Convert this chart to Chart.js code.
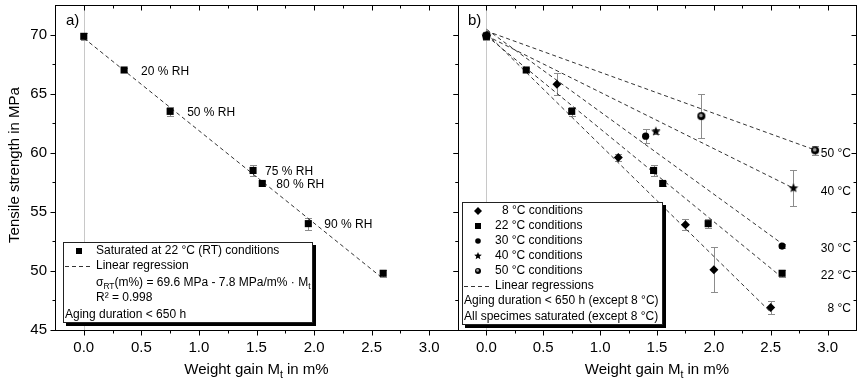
<!DOCTYPE html>
<html>
<head>
<meta charset="utf-8">
<script src="https://cdn.jsdelivr.net/npm/chart.js@4.4.0/dist/chart.umd.min.js"></script>
<style>
  html, body { margin: 0; padding: 0; background: #fff; }
  #wrap { position: relative; width: 861px; height: 380px; overflow: hidden; }
  canvas { position: absolute; top: 0; }
</style>
</head>
<body>
<div id="wrap">
  <canvas id="ca" width="470" height="380" style="left:0;width:470px;height:380px"></canvas>
  <canvas id="cb" width="421" height="380" style="left:440px;width:421px;height:380px"></canvas>
</div>
<script>
// ---- data ----
const xTicks = [0, 0.5, 1, 1.5, 2, 2.5, 3];
const xMinor = [0.25, 0.75, 1.25, 1.75, 2.25, 2.75];
const yTicks = [45, 50, 55, 60, 65, 70];
const yMinor = [47.5, 52.5, 57.5, 62.5, 67.5];

// a) saturated at 22 °C (RT)
const rtM = [0, 0.35, 0.75, 1.47, 1.55, 1.95, 2.6];
const rtS = [69.85, 67.0, 63.5, 58.5, 57.4, 54.0, 49.8];
const rtErr = [0.3, 0.15, 0.4, 0.5, 0.2, 0.5, 0.3];
const rhLabels = ['', '20 % RH', '50 % RH', '75 % RH', '80 % RH', '90 % RH', ''];
const fitRT = [[0, 69.7], [2.58, 49.5]];

// b) different temperatures
const m8 = [0, 0.62, 1.16, 1.75, 2.0, 2.5];
const s8 = [69.9, 65.8, 59.6, 53.9, 50.1, 46.9];
const e8 = [0.3, 0.95, 0.3, 0.45, 1.9, 0.55];
const m22 = [0, 0.35, 0.75, 1.47, 1.55, 1.95, 2.6];
const s22 = [69.85, 67.0, 63.5, 58.5, 57.4, 54.0, 49.8];
const e22 = [0.3, 0.15, 0.4, 0.5, 0.2, 0.4, 0.3];
const m30 = [0, 1.40, 2.6];
const s30 = [69.9, 61.4, 52.1];
const e30 = [0.3, 0.6, 0.2];
const m40 = [0, 1.49, 2.7];
const s40 = [69.9, 61.8, 57.0];
const e40 = [0.3, 0.2, 1.5];
const m50 = [0, 1.89, 2.89];
const s50 = [69.9, 63.1, 60.2];
const e50 = [0.3, 1.85, 0.4];

const fit8 = [[0, 70.1], [2.49, 46.6]];
const fit22 = [[0, 69.9], [2.58, 49.6]];
const fit30 = [[0, 70.45], [2.6, 52.3]];
const fit40 = [[0, 69.9], [2.7, 57.0]];
const fit50 = [[0, 70.3], [2.87, 60.3]];

const tempLabels = ['8 °C', '22 °C', '30 °C', '40 °C', '50 °C'];
const tempLabelY = [46.8, 49.6, 51.9, 56.7, 59.9];

// ---- styling ----
const FONT = '"Liberation Sans", Arial, Helvetica, sans-serif';
const rhDx = [0, 17, 17, 12, 14, 16, 0];

function makeStar(r) {
  const c = document.createElement('canvas');
  const s = Math.ceil(r * 2) + 2;
  c.width = c.height = s;
  const g = c.getContext('2d');
  g.translate(s / 2, s / 2);
  g.beginPath();
  for (let i = 0; i < 10; i++) {
    const rr = i % 2 ? r * 0.45 : r;
    const a = -Math.PI / 2 + i * Math.PI / 5;
    g.lineTo(rr * Math.cos(a), rr * Math.sin(a));
  }
  g.closePath();
  g.fillStyle = '#000';
  g.fill();
  return c;
}

function makeHalf(r) {
  const c = document.createElement('canvas');
  const s = Math.ceil(r * 2) + 2;
  c.width = c.height = s;
  const g = c.getContext('2d');
  g.translate(s / 2, s / 2);
  g.beginPath();
  g.arc(0, 0, r, 0, Math.PI * 2);
  g.fillStyle = '#000';
  g.fill();
  g.beginPath();
  g.arc(-0.4, -0.6, r * 0.45, 0, Math.PI * 2);
  g.fillStyle = '#9a9a9a';
  g.fill();
  return c;
}

const starBig = makeStar(5), starSmall = makeStar(4);
const halfBig = makeHalf(4), halfSmall = makeHalf(3);

function pts(xs, ys) { return xs.map((v, i) => ({ x: v, y: ys[i] })); }

function pointSet(xs, ys, errs, style, r) {
  return {
    data: pts(xs, ys), errs: errs, showLine: false,
    pointStyle: style, pointRadius: r, pointHoverRadius: r,
    backgroundColor: '#000', borderColor: '#000', borderWidth: 0, order: 0
  };
}

function fitSet(f) {
  return {
    data: f.map(p => ({ x: p[0], y: p[1] })), showLine: true,
    borderColor: '#333', borderWidth: 1, borderDash: [4, 3],
    pointRadius: 0, order: 1
  };
}

// text with subscript parts: [text, mode] (0 normal, 1 sub)
function rich(ctx, parts, x, y, size, align) {
  let total = 0;
  const w = parts.map(p => {
    ctx.font = (p[1] ? size * 0.7 : size) + 'px ' + FONT;
    const m = ctx.measureText(p[0]).width;
    total += m;
    return m;
  });
  let cx = align === 'center' ? x - total / 2 : align === 'right' ? x - total : x;
  ctx.textAlign = 'left';
  ctx.textBaseline = 'alphabetic';
  parts.forEach((p, i) => {
    ctx.font = (p[1] ? size * 0.7 : size) + 'px ' + FONT;
    ctx.fillText(p[0], cx, y + (p[1] ? size * 0.25 : 0));
    cx += w[i];
  });
}

function text(ctx, s, x, yc, size, align) {
  ctx.font = size + 'px ' + FONT;
  ctx.fillStyle = '#000';
  ctx.textAlign = align || 'left';
  ctx.textBaseline = 'middle';
  ctx.fillText(s, x, yc);
}

function drawMarker(ctx, kind, x, y) {
  ctx.fillStyle = '#000';
  ctx.beginPath();
  if (kind === 'rect') { ctx.fillRect(x - 3, y - 3, 6, 6); return; }
  if (kind === 'diamond') {
    ctx.moveTo(x, y - 4); ctx.lineTo(x + 4, y); ctx.lineTo(x, y + 4); ctx.lineTo(x - 4, y);
    ctx.closePath(); ctx.fill(); return;
  }
  if (kind === 'circle') { ctx.arc(x, y, 2.8, 0, Math.PI * 2); ctx.fill(); return; }
  const img = kind === 'star' ? starSmall : halfSmall;
  ctx.drawImage(img, x - img.width / 2, y - img.height / 2);
}

function legendBox(ctx, x, y, w, h) {
  ctx.fillStyle = '#000';
  ctx.fillRect(x + 3, y + 3, w, h);
  ctx.fillStyle = '#fff';
  ctx.fillRect(x, y, w, h);
  ctx.strokeStyle = '#222';
  ctx.lineWidth = 1;
  ctx.strokeRect(x + 0.5, y + 0.5, w - 1, h - 1);
}

function dashSample(ctx, x1, x2, y) {
  ctx.save();
  ctx.strokeStyle = '#333';
  ctx.lineWidth = 1;
  ctx.setLineDash([4, 3]);
  ctx.beginPath();
  ctx.moveTo(x1, y + 0.5);
  ctx.lineTo(x2, y + 0.5);
  ctx.stroke();
  ctx.restore();
}

function drawErrors(chart) {
  const { ctx, scales: { x, y } } = chart;
  ctx.save();
  ctx.strokeStyle = '#8c8c8c';
  ctx.lineWidth = 1;
  chart.data.datasets.forEach(ds => {
    if (!ds.errs) return;
    ds.data.forEach((p, i) => {
      const e = ds.errs[i];
      if (!e) return;
      const px = Math.round(x.getPixelForValue(p.x)) + 0.5;
      const t = Math.round(y.getPixelForValue(p.y + e)) + 0.5;
      const b = Math.round(y.getPixelForValue(p.y - e)) + 0.5;
      ctx.beginPath();
      ctx.moveTo(px, t); ctx.lineTo(px, b);
      ctx.moveTo(px - 3.5, t); ctx.lineTo(px + 3.5, t);
      ctx.moveTo(px - 3.5, b); ctx.lineTo(px + 3.5, b);
      ctx.stroke();
    });
  });
  ctx.restore();
}

function drawZeroLine(chart) {
  const { ctx, chartArea: a, scales: { x } } = chart;
  const px = Math.round(x.getPixelForValue(0)) + 0.5;
  ctx.save();
  ctx.strokeStyle = '#c8c8c8';
  ctx.lineWidth = 1;
  ctx.beginPath();
  ctx.moveTo(px, a.top);
  ctx.lineTo(px, a.bottom);
  ctx.stroke();
  ctx.restore();
}

function drawFrame(chart) {
  const { ctx, chartArea: a, scales: { x, y } } = chart;
  const L = Math.round(a.left) + 0.5, R = Math.round(a.right) + 0.5;
  const T = Math.round(a.top) + 0.5, B = Math.round(a.bottom) + 0.5;
  ctx.save();
  ctx.strokeStyle = '#000';
  ctx.lineWidth = 1;
  ctx.strokeRect(L, T, R - L, B - T);
  ctx.beginPath();
  const xt = (vals, len) => vals.forEach(v => {
    const px = Math.round(x.getPixelForValue(v)) + 0.5;
    ctx.moveTo(px, B); ctx.lineTo(px, B + len);
    ctx.moveTo(px, T); ctx.lineTo(px, T + len);
  });
  const yt = (vals, len) => vals.forEach(v => {
    const py = Math.round(y.getPixelForValue(v)) + 0.5;
    ctx.moveTo(L - len, py); ctx.lineTo(L, py);
    ctx.moveTo(R - len, py); ctx.lineTo(R, py);
  });
  xt(xTicks, 5); xt(xMinor, 3);
  yt(yTicks, 5); yt(yMinor, 3);
  ctx.stroke();
  ctx.restore();
}

function xTitle(chart) {
  const { ctx, chartArea: a } = chart;
  ctx.fillStyle = '#000';
  rich(ctx, [['Weight gain M', 0], ['t', 1], [' in m%', 0]], (a.left + a.right) / 2, 374, 15, 'center');
}

function baseOptions(yWidth, padRight, showY) {
  return {
    responsive: false,
    animation: false,
    devicePixelRatio: 1,
    layout: { padding: { left: 0, right: padRight, top: 5, bottom: 0 } },
    plugins: { legend: { display: false }, tooltip: { enabled: false } },
    scales: {
      x: {
        type: 'linear', min: -0.25, max: 3.25,
        grid: { display: false, drawTicks: false },
        border: { display: false },
        ticks: {
          font: { family: FONT, size: 15 }, color: '#000', padding: 9,
          autoSkip: false, maxRotation: 0, callback: v => v.toFixed(1)
        },
        afterBuildTicks: s => { s.ticks = xTicks.map(v => ({ value: v })); },
        afterFit: s => { s.height = 50; s.paddingLeft = 0; s.paddingRight = 0; }
      },
      y: {
        type: 'linear', min: 45, max: 72.5,
        grid: { display: false, drawTicks: false },
        border: { display: false },
        ticks: {
          display: showY, font: { family: FONT, size: 15 }, color: '#000', padding: 8,
          autoSkip: false, callback: v => String(v)
        },
        afterBuildTicks: s => { s.ticks = yTicks.map(v => ({ value: v })); },
        afterFit: s => { s.width = yWidth; s.paddingTop = 0; s.paddingBottom = 0; }
      }
    }
  };
}

// ---- panel a ----
new Chart(document.getElementById('ca'), {
  type: 'scatter',
  data: {
    datasets: [
      pointSet(rtM, rtS, rtErr, 'rect', 5),
      fitSet(fitRT)
    ]
  },
  options: baseOptions(55, 12, true),
  plugins: [{
    id: 'decoA',
    beforeDatasetsDraw(chart) { drawZeroLine(chart); drawErrors(chart); },
    afterDraw(chart) {
      const { ctx, scales: { x, y } } = chart;
      drawFrame(chart);
      rhLabels.forEach((t, i) => {
        if (!t) return;
        text(ctx, t, x.getPixelForValue(rtM[i]) + rhDx[i], y.getPixelForValue(rtS[i]) + 1.5, 12);
      });
      text(ctx, 'a)', 66, 21, 15);
      // y title
      ctx.save();
      ctx.translate(15, 165);
      ctx.rotate(-Math.PI / 2);
      text(ctx, 'Tensile strength in MPa', 0, 0, 15, 'center');
      ctx.restore();
      xTitle(chart);
      // legend
      legendBox(ctx, 63, 242, 250, 81);
      drawMarker(ctx, 'rect', 79, 251);
      text(ctx, 'Saturated at 22 °C (RT) conditions', 96, 251, 12);
      dashSample(ctx, 65, 92, 266);
      text(ctx, 'Linear regression', 96, 266, 12);
      ctx.fillStyle = '#000';
      rich(ctx, [['σ', 0], ['RT', 1], ['(m%) = 69.6 MPa - 7.8 MPa/m% · M', 0], ['t', 1]], 96, 286, 12, 'left');
      text(ctx, 'R² = 0.998', 96, 298, 12);
      text(ctx, 'Aging duration < 650 h', 65, 315, 12);
    }
  }]
});

// ---- panel b ----
new Chart(document.getElementById('cb'), {
  type: 'scatter',
  data: {
    datasets: [
      pointSet(m8, s8, e8, 'rectRot', 4.5),
      pointSet(m22, s22, e22, 'rect', 5),
      pointSet(m30, s30, e30, 'circle', 3.6),
      pointSet(m40, s40, e40, starBig, 4),
      pointSet(m50, s50, e50, halfBig, 4),
      fitSet(fit8), fitSet(fit22), fitSet(fit30), fitSet(fit40), fitSet(fit50)
    ]
  },
  options: baseOptions(18, 1, false),
  plugins: [{
    id: 'decoB',
    beforeDatasetsDraw(chart) { drawZeroLine(chart); drawErrors(chart); },
    afterDraw(chart) {
      const { ctx, chartArea: a, scales: { y } } = chart;
      drawFrame(chart);
      tempLabels.forEach((t, i) => {
        text(ctx, t, a.right - 5, y.getPixelForValue(tempLabelY[i]), 12, 'right');
      });
      text(ctx, 'b)', 28, 21, 15);
      xTitle(chart);
      // legend
      const lx = 22;
      legendBox(ctx, lx, 202, 201, 123);
      const rows = [211, 226, 241, 256, 271];
      const kinds = ['diamond', 'rect', 'circle', 'star', 'half'];
      const names = ['8 °C conditions', '22 °C conditions', '30 °C conditions', '40 °C conditions', '50 °C conditions'];
      rows.forEach((ry, i) => {
        drawMarker(ctx, kinds[i], lx + 16, ry);
        text(ctx, names[i], lx + (i === 0 ? 40 : 33), ry, 12);
      });
      dashSample(ctx, lx + 2, lx + 30, 286);
      text(ctx, 'Linear regressions', lx + 33, 286, 12);
      text(ctx, 'Aging duration < 650 h (except 8 °C)', lx + 2, 301, 12);
      text(ctx, 'All specimes saturated (except 8 °C)', lx + 2, 317, 12);
    }
  }]
});
</script>
</body>
</html>
